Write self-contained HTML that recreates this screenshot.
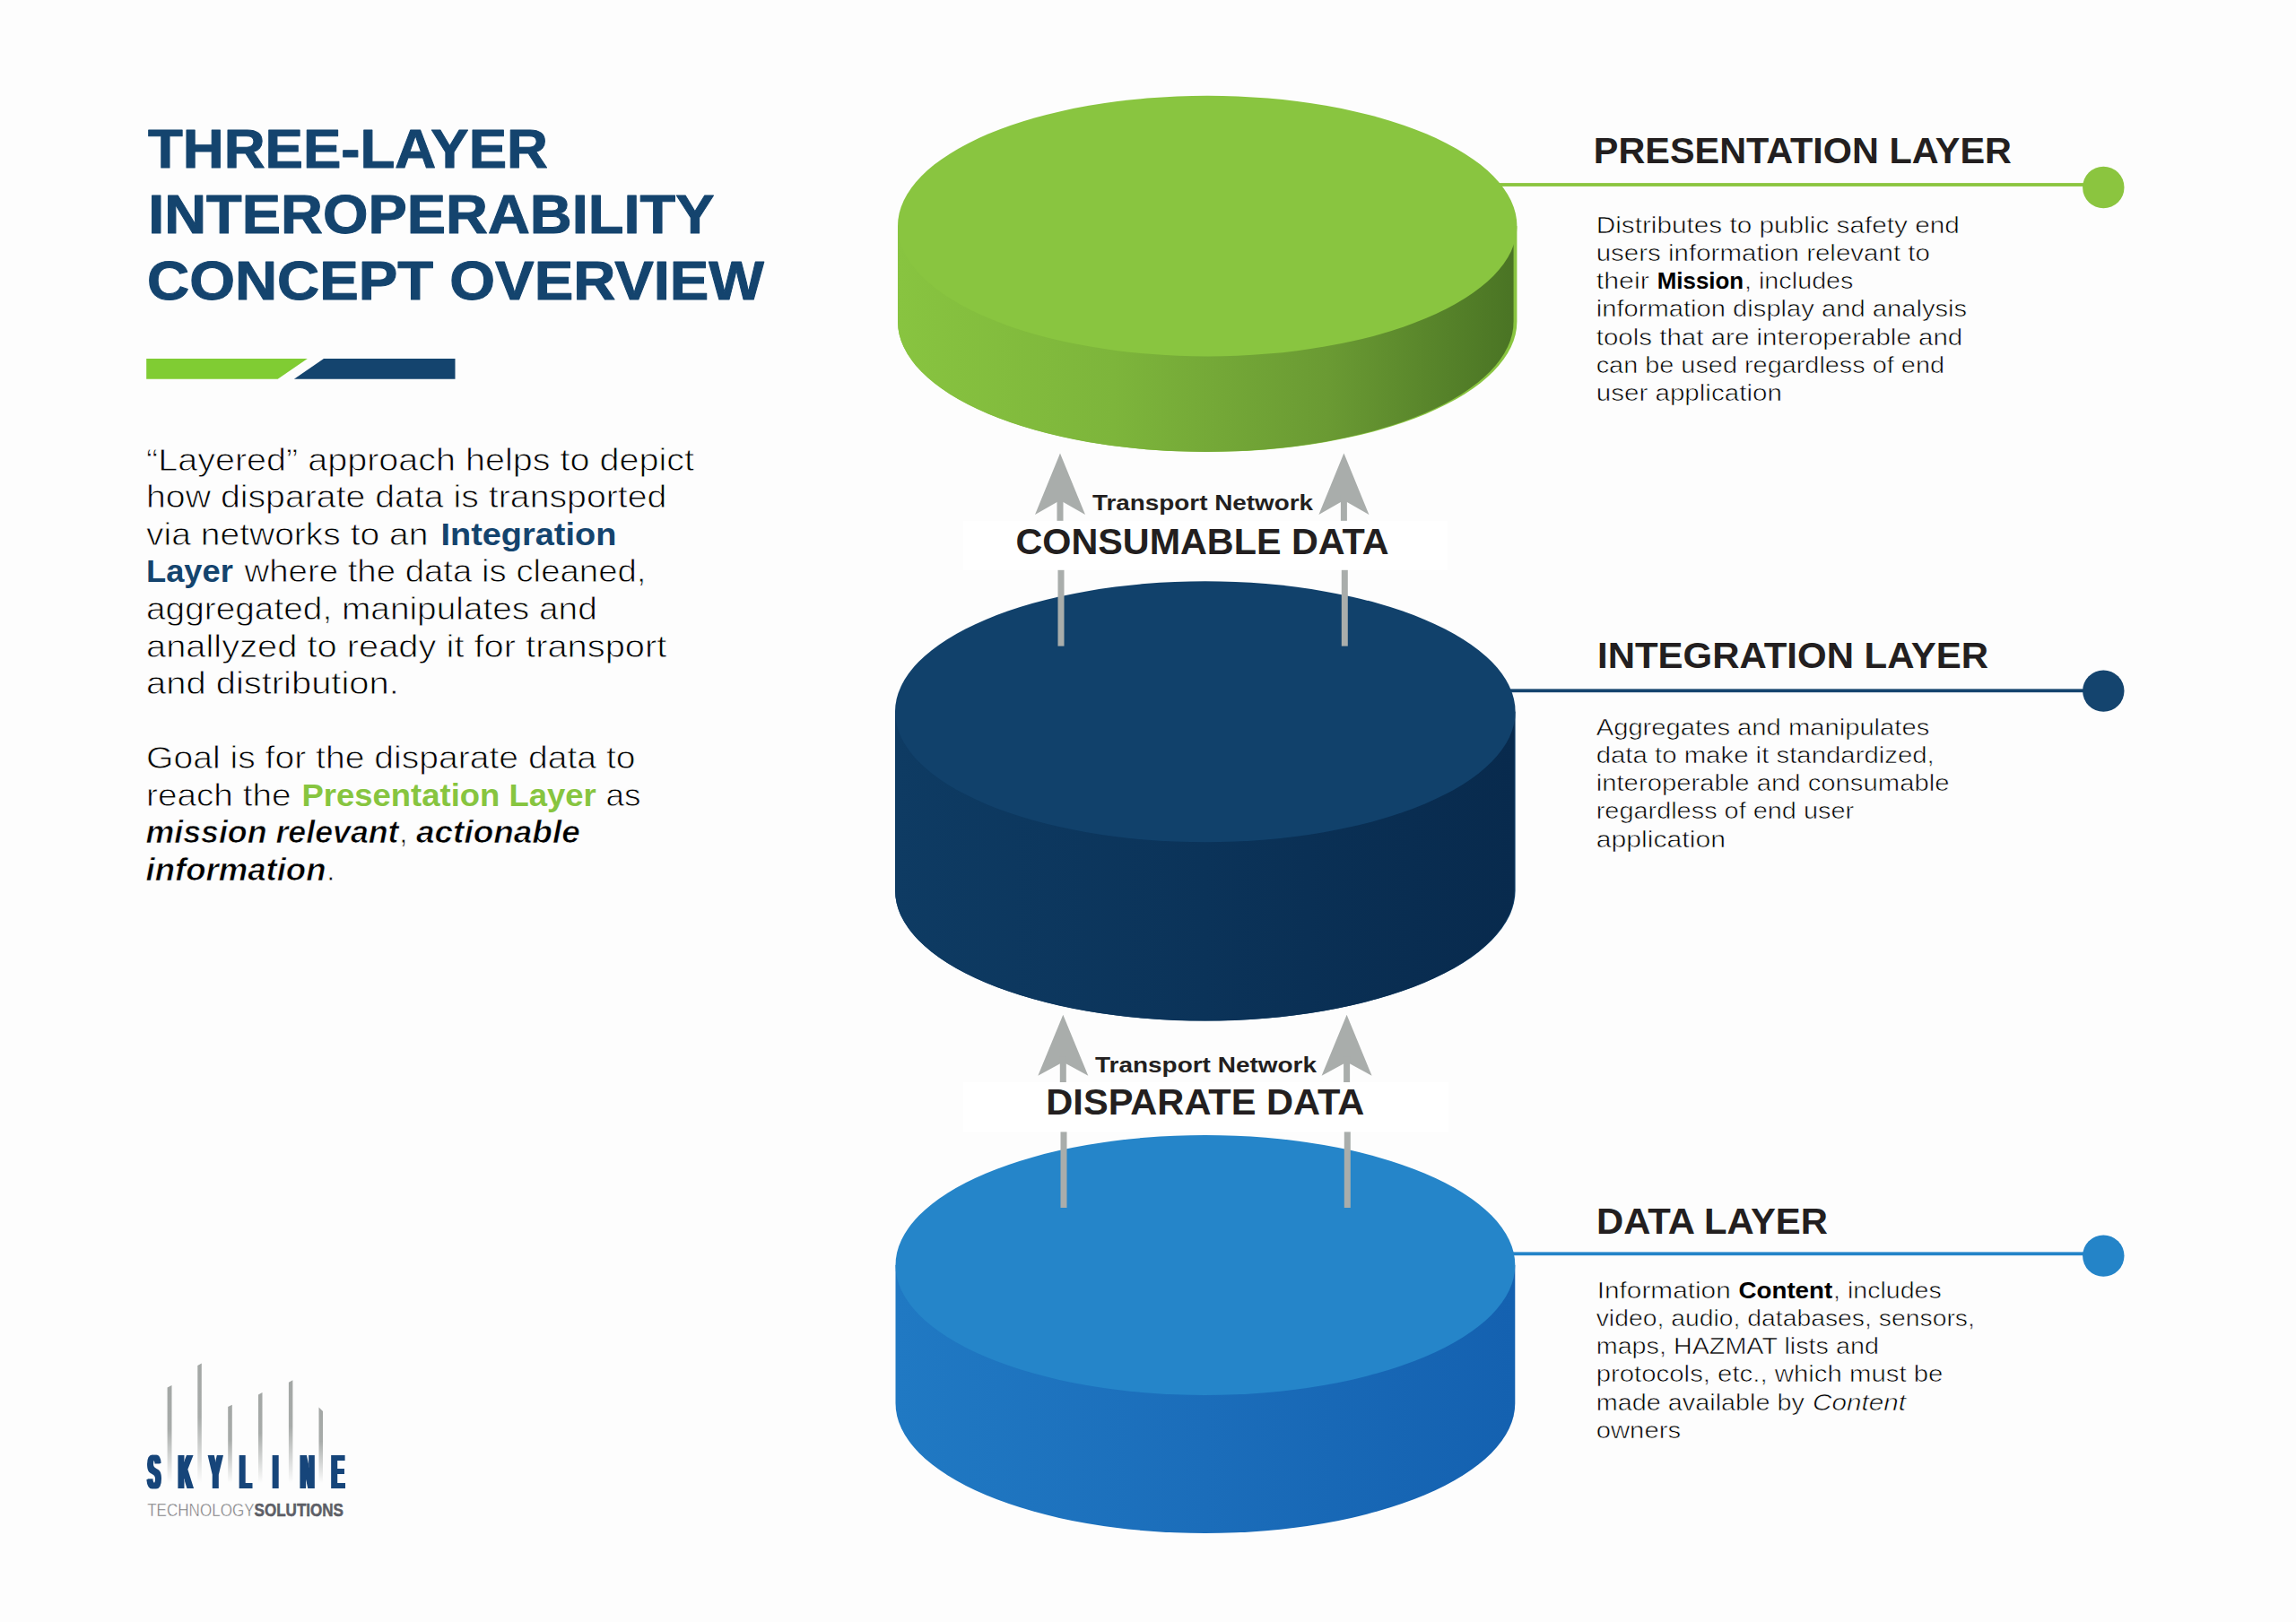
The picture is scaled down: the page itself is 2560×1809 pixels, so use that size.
<!DOCTYPE html>
<html lang="en">
<head>
<meta charset="utf-8">
<title>Three-Layer Interoperability Concept Overview</title>
<style>
html,body{margin:0;padding:0;background:#fdfdfd;}
body{width:2560px;height:1809px;overflow:hidden;}
svg{display:block;font-family:'Liberation Sans', sans-serif;}
text{white-space:pre;}
</style>
</head>
<body>
<svg width="2560" height="1809" viewBox="0 0 2560 1809" font-family='"Liberation Sans", sans-serif'>

<defs>
<linearGradient id="gGreen" x1="0" y1="0" x2="1" y2="0">
 <stop offset="0" stop-color="#88c440"/><stop offset="0.35" stop-color="#7db53b"/><stop offset="0.7" stop-color="#6a9a33"/><stop offset="1" stop-color="#4a7424"/>
</linearGradient>
<linearGradient id="gNavy" x1="0" y1="0" x2="1" y2="0">
 <stop offset="0" stop-color="#0e3b63"/><stop offset="0.5" stop-color="#0b3359"/><stop offset="1" stop-color="#082a4d"/>
</linearGradient>
<linearGradient id="gBlue" x1="0" y1="0" x2="1" y2="0">
 <stop offset="0" stop-color="#2079c3"/><stop offset="0.5" stop-color="#1b6dba"/><stop offset="1" stop-color="#1461b0"/>
</linearGradient>
<linearGradient id="gBar" x1="0" y1="0" x2="0" y2="1">
 <stop offset="0" stop-color="#a3a7a5" stop-opacity="1"/><stop offset="0.45" stop-color="#a3a7a5" stop-opacity="0.95"/><stop offset="1" stop-color="#a3a7a5" stop-opacity="0"/>
</linearGradient>
<filter id="fat" x="-5%" y="-20%" width="110%" height="140%" primitiveUnits="userSpaceOnUse"><feMorphology operator="dilate" radius="4.0 0"/></filter>
</defs>

<text x="165.0" y="186.5" textLength="446.0" lengthAdjust="spacingAndGlyphs" font-size="61.8" font-weight="700" font-style="normal" fill="#14446e" stroke="#14446e" stroke-width="1" stroke-linejoin="round">THREE-LAYER</text>
<text x="165.2" y="260.2" textLength="631.3" lengthAdjust="spacingAndGlyphs" font-size="61.8" font-weight="700" font-style="normal" fill="#14446e" stroke="#14446e" stroke-width="1" stroke-linejoin="round">INTEROPERABILITY</text>
<text x="164.0" y="333.8" textLength="688.0" lengthAdjust="spacingAndGlyphs" font-size="61.8" font-weight="700" font-style="normal" fill="#14446e" stroke="#14446e" stroke-width="1" stroke-linejoin="round">CONCEPT OVERVIEW</text>
<polygon points="163.2,399.9 342.8,399.9 309.7,422.7 163.2,422.7" fill="#80cc33"/>
<polygon points="361,399.9 507.5,399.9 507.5,422.7 327.9,422.7" fill="#14446e"/>
<text x="163.0" y="524.6" textLength="611.0" lengthAdjust="spacingAndGlyphs" font-size="34.5" font-weight="400" font-style="normal" fill="#000" stroke="#fdfdfd" stroke-width="0.79">“Layered” approach helps to depict</text>
<text x="163.0" y="566.2" textLength="580.4" lengthAdjust="spacingAndGlyphs" font-size="34.5" font-weight="400" font-style="normal" fill="#000" stroke="#fdfdfd" stroke-width="0.79">how disparate data is transported</text>
<text x="163.0" y="607.7" textLength="314.5" lengthAdjust="spacingAndGlyphs" font-size="34.5" font-weight="400" font-style="normal" fill="#000" stroke="#fdfdfd" stroke-width="0.79">via networks to an</text>
<text x="491.5" y="607.7" textLength="195.8" lengthAdjust="spacingAndGlyphs" font-size="34.5" font-weight="700" font-style="normal" fill="#14446e" >Integration</text>
<text x="163.0" y="649.3" textLength="96.8" lengthAdjust="spacingAndGlyphs" font-size="34.5" font-weight="700" font-style="normal" fill="#14446e" >Layer</text>
<text x="272.5" y="649.3" textLength="448.0" lengthAdjust="spacingAndGlyphs" font-size="34.5" font-weight="400" font-style="normal" fill="#000" stroke="#fdfdfd" stroke-width="0.79">where the data is cleaned,</text>
<text x="163.0" y="690.9" textLength="502.8" lengthAdjust="spacingAndGlyphs" font-size="34.5" font-weight="400" font-style="normal" fill="#000" stroke="#fdfdfd" stroke-width="0.79">aggregated, manipulates and</text>
<text x="163.0" y="732.5" textLength="580.4" lengthAdjust="spacingAndGlyphs" font-size="34.5" font-weight="400" font-style="normal" fill="#000" stroke="#fdfdfd" stroke-width="0.79">anallyzed to ready it for transport</text>
<text x="163.0" y="774.0" textLength="281.8" lengthAdjust="spacingAndGlyphs" font-size="34.5" font-weight="400" font-style="normal" fill="#000" stroke="#fdfdfd" stroke-width="0.79">and distribution.</text>
<text x="163.0" y="857.2" textLength="545.5" lengthAdjust="spacingAndGlyphs" font-size="34.5" font-weight="400" font-style="normal" fill="#000" stroke="#fdfdfd" stroke-width="0.79">Goal is for the disparate data to</text>
<text x="163.0" y="898.7" textLength="161.5" lengthAdjust="spacingAndGlyphs" font-size="34.5" font-weight="400" font-style="normal" fill="#000" stroke="#fdfdfd" stroke-width="0.79">reach the</text>
<text x="336.5" y="898.7" textLength="328.3" lengthAdjust="spacingAndGlyphs" font-size="34.5" font-weight="700" font-style="normal" fill="#87c540" >Presentation Layer</text>
<text x="675.5" y="898.7" textLength="39.0" lengthAdjust="spacingAndGlyphs" font-size="34.5" font-weight="400" font-style="normal" fill="#000" stroke="#fdfdfd" stroke-width="0.79">as</text>
<text x="162.5" y="940.3" textLength="282.0" lengthAdjust="spacingAndGlyphs" font-size="34.5" font-weight="700" font-style="italic" fill="#000" stroke="#fdfdfd" stroke-width="0.69">mission relevant</text>
<text x="445.0" y="940.3" font-size="34.5" font-weight="400" font-style="normal" fill="#000" stroke="#fdfdfd" stroke-width="0.79">,</text>
<text x="464.0" y="940.3" textLength="182.7" lengthAdjust="spacingAndGlyphs" font-size="34.5" font-weight="700" font-style="italic" fill="#000" stroke="#fdfdfd" stroke-width="0.69">actionable</text>
<text x="162.5" y="981.9" textLength="201.0" lengthAdjust="spacingAndGlyphs" font-size="34.5" font-weight="700" font-style="italic" fill="#000" stroke="#fdfdfd" stroke-width="0.69">information</text>
<text x="364.0" y="981.9" font-size="34.5" font-weight="400" font-style="normal" fill="#000" stroke="#fdfdfd" stroke-width="0.79">.</text>
<rect x="1660" y="204.1" width="665" height="3.8" fill="#8bc53f"/>
<circle cx="2345.3" cy="209.0" r="23.2" fill="#8bc53f"/>
<rect x="1660" y="768.4" width="665" height="3.8" fill="#14446e"/>
<circle cx="2345.3" cy="770.6" r="23.2" fill="#14446e"/>
<rect x="1660" y="1396.4" width="665" height="3.8" fill="#2484c8"/>
<circle cx="2345.3" cy="1400.6" r="23.2" fill="#2484c8"/>
<path d="M998.5,1411.0 L998.5,1565.0 A345.4,145.0 0 0 0 1689.3,1565.0 L1689.3,1411.0 Z" fill="url(#gBlue)"/>
<ellipse cx="1343.9" cy="1411.0" rx="345.4" ry="145.0" fill="#2585c9"/>
<path d="M998.0,793.8 L998.0,993.1 A345.8,145.5 0 0 0 1689.6,993.1 L1689.6,793.8 Z" fill="#11416b"/>
<path d="M998.0,793.8 L998.0,993.1 A345.3,145.5 0 0 0 1688.6,993.1 L1688.6,793.8 Z" fill="url(#gNavy)"/>
<ellipse cx="1343.8" cy="793.8" rx="345.8" ry="145.5" fill="#11416b"/>
<path d="M1001.0,252.1 L1001.0,358.7 A345.2,145.3 0 0 0 1691.4,358.7 L1691.4,252.1 Z" fill="#89c540"/>
<path d="M1001.0,252.1 L1001.0,358.7 A343.3,145.3 0 0 0 1687.6,358.7 L1687.6,252.1 Z" fill="url(#gGreen)"/>
<ellipse cx="1346.2" cy="252.1" rx="345.2" ry="145.3" fill="#89c540"/>
<rect x="1074" y="581.3" width="540" height="54.5" fill="#ffffff"/>
<rect x="1074" y="1207.0" width="541" height="55.4" fill="#ffffff"/>
<polygon points="1182.0,505.6 1210.0,574.0 1182.0,558.0 1154.0,574.0" fill="#a9adab"/>
<rect x="1178.5" y="552.0" width="7.0" height="28.8" fill="#a9adab"/>
<rect x="1179.5" y="635.8" width="7.0" height="84.8" fill="#a9adab"/>
<polygon points="1498.4,505.4 1526.4,574.0 1498.4,558.0 1470.4,574.0" fill="#a9adab"/>
<rect x="1494.9" y="552.0" width="7.0" height="28.8" fill="#a9adab"/>
<rect x="1495.8" y="635.8" width="7.0" height="84.8" fill="#a9adab"/>
<polygon points="1185.3,1131.7 1213.3,1199.8 1185.3,1184.4 1157.3,1199.8" fill="#a9adab"/>
<rect x="1181.8" y="1178.4" width="7.0" height="28.6" fill="#a9adab"/>
<rect x="1182.5" y="1262.4" width="7.0" height="84.6" fill="#a9adab"/>
<polygon points="1501.6,1131.7 1529.6,1199.8 1501.6,1184.4 1473.6,1199.8" fill="#a9adab"/>
<rect x="1498.1" y="1178.4" width="7.0" height="28.6" fill="#a9adab"/>
<rect x="1498.8" y="1262.4" width="7.0" height="84.6" fill="#a9adab"/>
<text x="1218.0" y="569.4" textLength="246.0" lengthAdjust="spacingAndGlyphs" font-size="24.6" font-weight="700" font-style="normal" fill="#231f20" >Transport Network</text>
<text x="1132.5" y="617.6" textLength="416.0" lengthAdjust="spacingAndGlyphs" font-size="39.8" font-weight="700" font-style="normal" fill="#231f20" >CONSUMABLE DATA</text>
<text x="1221.0" y="1195.6" textLength="247.0" lengthAdjust="spacingAndGlyphs" font-size="24.6" font-weight="700" font-style="normal" fill="#231f20" >Transport Network</text>
<text x="1166.3" y="1243.1" textLength="355.1" lengthAdjust="spacingAndGlyphs" font-size="39.8" font-weight="700" font-style="normal" fill="#231f20" >DISPARATE DATA</text>
<text x="1776.8" y="181.6" textLength="466.2" lengthAdjust="spacingAndGlyphs" font-size="39.8" font-weight="700" font-style="normal" fill="#231f20" >PRESENTATION LAYER</text>
<text x="1781.0" y="745.3" textLength="436.0" lengthAdjust="spacingAndGlyphs" font-size="39.8" font-weight="700" font-style="normal" fill="#231f20" >INTEGRATION LAYER</text>
<text x="1780.0" y="1375.6" textLength="258.0" lengthAdjust="spacingAndGlyphs" font-size="39.8" font-weight="700" font-style="normal" fill="#231f20" >DATA LAYER</text>
<text x="1779.7" y="259.9" textLength="405.1" lengthAdjust="spacingAndGlyphs" font-size="26" font-weight="400" font-style="normal" fill="#000" stroke="#fdfdfd" stroke-width="0.60">Distributes to public safety end</text>
<text x="1779.7" y="291.2" textLength="372.2" lengthAdjust="spacingAndGlyphs" font-size="26" font-weight="400" font-style="normal" fill="#000" stroke="#fdfdfd" stroke-width="0.60">users information relevant to</text>
<text x="1779.7" y="322.4" textLength="59.1" lengthAdjust="spacingAndGlyphs" font-size="26" font-weight="400" font-style="normal" fill="#000" stroke="#fdfdfd" stroke-width="0.60">their</text>
<text x="1847.8" y="322.4" textLength="96.4" lengthAdjust="spacingAndGlyphs" font-size="26" font-weight="700" font-style="normal" fill="#000" >Mission</text>
<text x="1945.0" y="322.4" textLength="121.5" lengthAdjust="spacingAndGlyphs" font-size="26" font-weight="400" font-style="normal" fill="#000" stroke="#fdfdfd" stroke-width="0.60">, includes</text>
<text x="1779.7" y="353.4" textLength="413.5" lengthAdjust="spacingAndGlyphs" font-size="26" font-weight="400" font-style="normal" fill="#000" stroke="#fdfdfd" stroke-width="0.60">information display and analysis</text>
<text x="1779.7" y="384.6" textLength="408.6" lengthAdjust="spacingAndGlyphs" font-size="26" font-weight="400" font-style="normal" fill="#000" stroke="#fdfdfd" stroke-width="0.60">tools that are interoperable and</text>
<text x="1779.7" y="415.9" textLength="388.3" lengthAdjust="spacingAndGlyphs" font-size="26" font-weight="400" font-style="normal" fill="#000" stroke="#fdfdfd" stroke-width="0.60">can be used regardless of end</text>
<text x="1779.7" y="447.2" textLength="207.2" lengthAdjust="spacingAndGlyphs" font-size="26" font-weight="400" font-style="normal" fill="#000" stroke="#fdfdfd" stroke-width="0.60">user application</text>
<text x="1779.7" y="819.6" textLength="371.6" lengthAdjust="spacingAndGlyphs" font-size="26" font-weight="400" font-style="normal" fill="#000" stroke="#fdfdfd" stroke-width="0.60">Aggregates and manipulates</text>
<text x="1779.7" y="850.8" textLength="377.1" lengthAdjust="spacingAndGlyphs" font-size="26" font-weight="400" font-style="normal" fill="#000" stroke="#fdfdfd" stroke-width="0.60">data to make it standardized,</text>
<text x="1779.7" y="882.1" textLength="393.8" lengthAdjust="spacingAndGlyphs" font-size="26" font-weight="400" font-style="normal" fill="#000" stroke="#fdfdfd" stroke-width="0.60">interoperable and consumable</text>
<text x="1779.7" y="913.4" textLength="287.5" lengthAdjust="spacingAndGlyphs" font-size="26" font-weight="400" font-style="normal" fill="#000" stroke="#fdfdfd" stroke-width="0.60">regardless of end user</text>
<text x="1779.7" y="944.6" textLength="144.3" lengthAdjust="spacingAndGlyphs" font-size="26" font-weight="400" font-style="normal" fill="#000" stroke="#fdfdfd" stroke-width="0.60">application</text>
<text x="1780.7" y="1448.0" textLength="149.1" lengthAdjust="spacingAndGlyphs" font-size="26" font-weight="400" font-style="normal" fill="#000" stroke="#fdfdfd" stroke-width="0.60">Information</text>
<text x="1938.5" y="1448.0" textLength="104.7" lengthAdjust="spacingAndGlyphs" font-size="26" font-weight="700" font-style="normal" fill="#000" >Content</text>
<text x="2044.0" y="1448.0" textLength="120.8" lengthAdjust="spacingAndGlyphs" font-size="26" font-weight="400" font-style="normal" fill="#000" stroke="#fdfdfd" stroke-width="0.60">, includes</text>
<text x="1779.7" y="1479.2" textLength="422.2" lengthAdjust="spacingAndGlyphs" font-size="26" font-weight="400" font-style="normal" fill="#000" stroke="#fdfdfd" stroke-width="0.60">video, audio, databases, sensors,</text>
<text x="1779.7" y="1510.2" textLength="315.2" lengthAdjust="spacingAndGlyphs" font-size="26" font-weight="400" font-style="normal" fill="#000" stroke="#fdfdfd" stroke-width="0.60">maps, HAZMAT lists and</text>
<text x="1779.7" y="1541.4" textLength="386.7" lengthAdjust="spacingAndGlyphs" font-size="26" font-weight="400" font-style="normal" fill="#000" stroke="#fdfdfd" stroke-width="0.60">protocols, etc., which must be</text>
<text x="1779.7" y="1572.7" textLength="232.3" lengthAdjust="spacingAndGlyphs" font-size="26" font-weight="400" font-style="normal" fill="#000" stroke="#fdfdfd" stroke-width="0.60">made available by</text>
<text x="2021.0" y="1572.7" textLength="104.0" lengthAdjust="spacingAndGlyphs" font-size="26" font-weight="400" font-style="italic" fill="#000" stroke="#fdfdfd" stroke-width="0.60">Content</text>
<text x="1779.7" y="1603.7" textLength="94.4" lengthAdjust="spacingAndGlyphs" font-size="26" font-weight="400" font-style="normal" fill="#000" stroke="#fdfdfd" stroke-width="0.60">owners</text>
<polygon points="186.6,1547.5 191.5,1545.0 191.5,1654 186.6,1654" fill="url(#gBar)"/>
<polygon points="220.3,1523.0 224.8,1520.5 224.8,1654 220.3,1654" fill="url(#gBar)"/>
<polygon points="254.2,1569.0 258.8,1566.7 258.8,1654 254.2,1654" fill="url(#gBar)"/>
<polygon points="288.0,1555.5 292.5,1553.0 292.5,1654 288.0,1654" fill="url(#gBar)"/>
<polygon points="321.9,1541.7 326.4,1539.2 326.4,1654 321.9,1654" fill="url(#gBar)"/>
<polygon points="355.5,1569.5 360.0,1574.0 360.0,1654 355.5,1654" fill="url(#gBar)"/>
<text transform="scale(0.4,1)" x="429.5 516.5 601.0 684.0 768.0 856.5 942.0" y="1659.9" text-anchor="middle" font-size="52.8" font-weight="700" fill="#17457a" filter="url(#fat)">SKYLINE</text>
<text x="164.2" y="1690.5" font-size="20" fill="#6d6e71" textLength="218.8" lengthAdjust="spacingAndGlyphs" font-weight="400" stroke="#fdfdfd" stroke-width="0.5">TECHNOLOGY<tspan font-weight="700" fill="#5c5e66" stroke="#5c5e66" stroke-width="0.5">SOLUTIONS</tspan></text>
</svg>
</body>
</html>
